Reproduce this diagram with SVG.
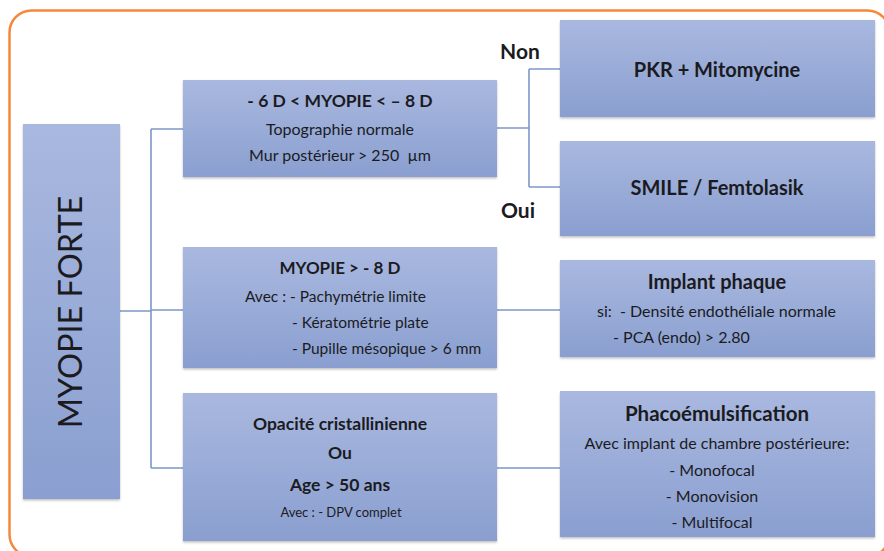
<svg xmlns="http://www.w3.org/2000/svg" width="884" height="551" viewBox="0 0 884 551">
<defs>
<linearGradient id="g" x1="0" y1="0" x2="0" y2="1">
<stop offset="0" stop-color="#a9b8df"/>
<stop offset="1" stop-color="#8a9fd0"/>
</linearGradient>
<filter id="sh" x="-5%" y="-5%" width="110%" height="115%">
<feDropShadow dx="0" dy="1.5" stdDeviation="1.2" flood-color="#000" flood-opacity="0.25"/>
</filter>
<style>
.box{fill:url(#g);filter:url(#sh);}
.t{font-family:Lato,"Open Sans",sans-serif;fill:#1b1b1f;white-space:pre;}
.b{font-weight:bold;}
.c{text-anchor:middle;}
.conn{fill:none;stroke:#7e96c9;stroke-width:1.6;}
</style>
</defs>
<rect width="884" height="551" fill="#ffffff"/>
<rect x="9.5" y="10.5" width="880" height="546" rx="22" fill="none" stroke="#f5883a" stroke-width="2.5"/>

<g id="connectors">
<path class="conn" d="M120 311 H151 M151 129 V468 M151 129 H183 M151 310 H183 M151 468 H183"/>
<path class="conn" d="M497 128 H529 M529 69 V187 M529 69 H560 M529 187 H560"/>
<path class="conn" d="M497 310 H560 M497 468 H560"/>
</g>

<g id="root">
<rect class="box" x="23" y="124" width="97" height="375"/>
<text class="t" transform="translate(82 312) rotate(-90)" text-anchor="middle" font-size="32.5">MYOPIE FORTE</text>
</g>

<g id="n1">
<rect class="box" x="183" y="80" width="314" height="97"/>
<text class="t b c" x="340" y="107" font-size="17.5">- 6 D &lt; MYOPIE &lt; – 8 D</text>
<text class="t c" x="340" y="135" font-size="16">Topographie normale</text>
<text class="t c" x="340" y="161" font-size="16">Mur postérieur &gt; 250  µm</text>
</g>

<g id="pkr">
<rect class="box" x="560" y="20" width="315" height="97"/>
<text class="t b c" x="717" y="77" font-size="20">PKR + Mitomycine</text>
</g>

<g id="smile">
<rect class="box" x="560" y="141" width="315" height="95"/>
<text class="t b c" x="717" y="195" font-size="20">SMILE / Femtolasik</text>
</g>

<text class="t b c" x="520" y="59" font-size="21">Non</text>
<text class="t b c" x="518" y="218" font-size="21">Oui</text>

<g id="n2">
<rect class="box" x="183" y="247" width="314" height="121"/>
<text class="t b c" x="340" y="274" font-size="17">MYOPIE &gt; - 8 D</text>
<text class="t" x="245" y="302" font-size="15.5">Avec : - Pachymétrie limite</text>
<text class="t" x="292" y="328" font-size="15.5">- Kératométrie plate</text>
<text class="t" x="292" y="354" font-size="15.5">- Pupille mésopique &gt; 6 mm</text>
</g>

<g id="implant">
<rect class="box" x="560" y="260" width="315" height="97"/>
<text class="t b c" x="717" y="289" font-size="20">Implant phaque</text>
<text class="t" x="597" y="317" font-size="16">si:  - Densité endothéliale normale</text>
<text class="t" x="613" y="343" font-size="16">- PCA (endo) &gt; 2.80</text>
</g>

<g id="n3">
<rect class="box" x="183" y="393" width="314" height="148"/>
<text class="t b c" x="340" y="430" font-size="17.5">Opacité cristallinienne</text>
<text class="t b c" x="340" y="459" font-size="17.5">Ou</text>
<text class="t b c" x="340" y="491" font-size="17.5">Age &gt; 50 ans</text>
<text class="t c" x="341" y="517" font-size="13">Avec : - DPV complet</text>
</g>

<g id="phaco">
<rect class="box" x="560" y="391" width="315" height="146"/>
<text class="t b c" x="717" y="421" font-size="20.5">Phacoémulsification</text>
<text class="t c" x="717" y="449" font-size="16">Avec implant de chambre postérieure:</text>
<text class="t c" x="712" y="476" font-size="16">- Monofocal</text>
<text class="t c" x="712" y="502" font-size="16">- Monovision</text>
<text class="t c" x="712" y="528" font-size="16">- Multifocal</text>
</g>
</svg>
